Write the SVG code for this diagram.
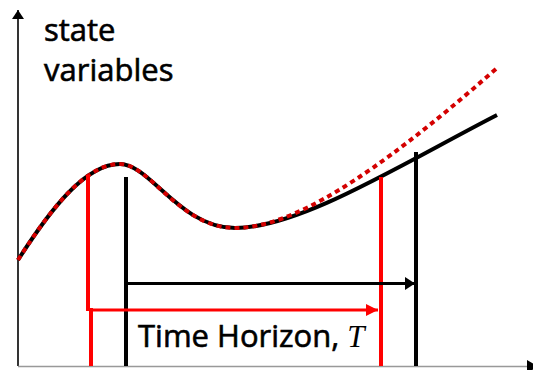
<svg xmlns="http://www.w3.org/2000/svg" width="533" height="370" viewBox="0 0 533 370">
<style>
.lbl{font-family:"Open Sans","Liberation Sans",sans-serif;font-size:31px;fill:#000;stroke:#000;stroke-width:0.6}
.tvar{font-family:"Liberation Serif","Times New Roman",serif;font-style:italic;font-size:31px;fill:#000;stroke:none}
.blk{stroke:#000;stroke-width:4;fill:none}
.red{stroke:#ff0000;stroke-width:4;fill:none}
</style>
<defs>
<marker id="ahB" markerWidth="10" markerHeight="13" refX="10" refY="6.5" orient="auto" markerUnits="userSpaceOnUse"><path d="M0,0 L10,6.5 L0,13 Z" fill="#000"/></marker>
<marker id="ahR" markerWidth="12" markerHeight="12" refX="12" refY="6" orient="auto" markerUnits="userSpaceOnUse"><path d="M0,0 L12,6 L0,12 Z" fill="#ff0000"/></marker>
<marker id="ahAx" markerWidth="9" markerHeight="12" refX="9" refY="6" orient="auto" markerUnits="userSpaceOnUse"><path d="M0,0 L9,6 L0,12 Z" fill="#000"/></marker>
</defs>
<g id="axes">
<line x1="18" y1="366" x2="18" y2="10" stroke="#000" stroke-width="1.6" marker-end="url(#ahAx)"/>
<line x1="18" y1="366.5" x2="538" y2="366.5" stroke="#999" stroke-width="1.6"/>
<path d="M527,360 L538,366.5 L527,373 Z" fill="#000"/>
</g>
<g id="labels">
<text class="lbl" x="44" y="41">state</text>
<text class="lbl" x="44" y="81">variables</text>
</g>
<g id="curves">
<path class="blk" d="M18,260 C50,210 85,164 120,164 C150,164 180,228 235,228 C300,228 400,165 497,115"/>
<path d="M18,260 C50,210 85,164 120,164 C150,164 180,228 235,228 C290,228 370,180 497,68" fill="none" stroke="#d40000" stroke-width="4" stroke-dasharray="5,4"/>
</g>
<g id="horizon-lines">
<line class="red" x1="88" y1="175" x2="88" y2="311"/>
<line class="red" x1="91" y1="308" x2="91" y2="366"/>
<line class="red" x1="381" y1="177" x2="381" y2="366"/>
<line class="blk" x1="126" y1="177" x2="126" y2="366"/>
<line class="blk" x1="416" y1="152" x2="416" y2="366"/>
</g>
<g id="connectors">
<line x1="126" y1="283.5" x2="415" y2="283.5" stroke="#000" stroke-width="3" marker-end="url(#ahB)"/>
<line x1="90" y1="310" x2="378" y2="310" stroke="#ff0000" stroke-width="3" marker-end="url(#ahR)"/>
</g>
<g id="horizon-label">
<text class="lbl" x="138" y="347">Time Horizon, <tspan class="tvar">T</tspan></text>
</g>
</svg>
